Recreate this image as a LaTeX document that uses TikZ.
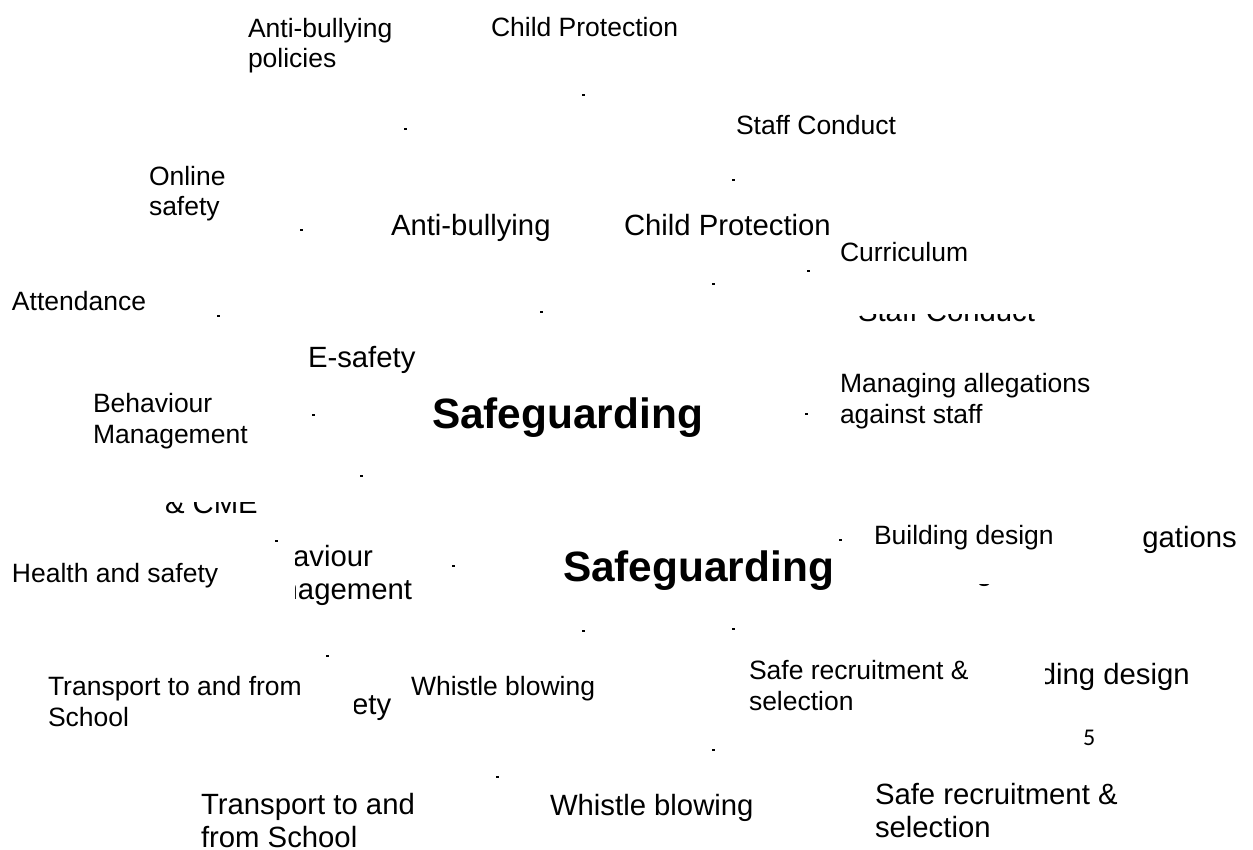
\documentclass[tikz,border=0pt]{standalone}
\usepackage{fontspec}
\setmainfont{Liberation Sans}
\newfontfamily\fivefont{Carlito}
\tikzset{
  lbl/.style={anchor=base west, inner sep=0pt, outer sep=0pt, align=left},
  sm/.style={lbl, font=\fontsize{26.5}{30.5}\selectfont},
  lg/.style={lbl, font=\fontsize{29.3}{33}\selectfont},
  bd/.style={lbl, font=\fontsize{42.4}{48}\selectfont\bfseries},
  fv/.style={lbl, font=\fontsize{24}{28}\selectfont\fivefont},
  dotmark/.style={fill=black, draw=none}
}
\begin{document}
\begin{tikzpicture}[x=1pt,y=-1pt]
\useasboundingbox (0,0) rectangle (1253,850);
\clip (0,0) rectangle (1253,850);
% (multi-line labels are placed by the baseline of their last line)
\node[sm] (abp) at (248,68) {Anti-bullying\\policies};
\node[sm] (cp1) at (491,37) {Child Protection};
\node[sm] (sc1) at (736,135) {Staff Conduct};
\node[sm] (os1) at (149,216) {Online\\safety};
\node[lg] (ab2) at (391,236) {Anti-bullying};
\begin{scope}
\clip (600,190) rectangle (828,260);
\node[lg] (cp2) at (624,236) {Child Protection};
\end{scope}
\node[sm] (cur) at (840,262) {Curriculum};
\node[sm] (att) at (12,311) {Attendance};
\begin{scope}
\clip (840,315) rectangle (1060,340);
\node[lg] (sc2) at (858,322) {Staff Conduct};
\end{scope}
\node[lg] (es) at (308,367) {E-safety};
\node[sm] (mas1) at (840,423) {Managing allegations\\against staff};
\node[sm] (bm1) at (93,443) {Behaviour\\Management};
\node[bd] (sg1) at (432,428) {Safeguarding};
\begin{scope}
\clip (150,502) rectangle (280,525);
\node[lg] (cme) at (165,513) {\& CME};
\end{scope}
\node[sm] (hs) at (12,582) {Health and safety};
\begin{scope}
\clip (295,530) rectangle (440,620);
\node[lg] (bm2) at (241,599) {Behaviour\\Management};
\end{scope}
\node[bd] (sg2) at (563,581) {Safeguarding};
\node[sm] (bd1) at (874,544) {Building design};
\begin{scope}
\clip (1143,500) rectangle (1253,570);
\node[lg] (mas2) at (960,580) {Managing allegations\\against staff};
\end{scope}
\begin{scope}
\clip (960,584) rectangle (1140,600);
\node[lg] (mas2b) at (960,580) {Managing allegations\\against staff};
\end{scope}
\node[sm] (tr1) at (48,726) {Transport to and from\\School};
\begin{scope}
\clip (354,688) rectangle (405,730);
\node[lg] (os2) at (313,714) {Online\\safety};
\end{scope}
\node[sm] (wb1) at (411,695) {Whistle blowing};
\node[sm] (sr1) at (749,710) {Safe recruitment \&\\selection};
\begin{scope}
\clip (1045,640) rectangle (1253,700);
\node[lg] (bd2) at (991,684) {Building design};
\end{scope}
\node[fv] (five) at (1083,745) {5};
\node[lg] (tr2) at (201,847) {Transport to and\\from School};
\node[lg] (wb2) at (550,815) {Whistle blowing};
\node[lg] (sr2) at (875,837) {Safe recruitment \&\\selection};
% small dots
\foreach \px/\py in {583/95, 405/129, 733/180, 301/230, 808/271, 713/284,
  218/316, 541/312, 313/415, 806/414, 361/476, 276/541, 453/566, 840/540,
  583/631, 733/629, 327/656, 713/750, 497/777}
  \fill[dotmark] (\px-1.5,\py-1) rectangle (\px+1.5,\py+1);
\end{tikzpicture}
\end{document}
